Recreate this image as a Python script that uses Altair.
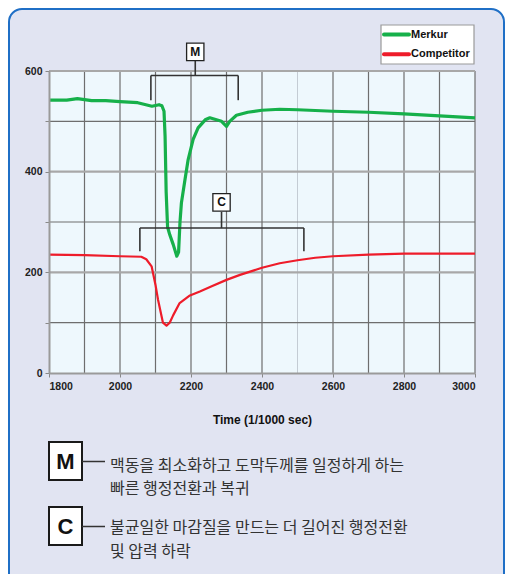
import altair as alt
import pandas as pd

# ---------------- data ----------------
merkur_t = [1800, 1850, 1880, 1920, 1960, 2000, 2050, 2090, 2110, 2118, 2124, 2127, 2130, 2134,
            2140, 2150, 2160, 2165, 2169, 2173, 2183, 2192, 2206, 2220, 2240, 2253, 2267, 2286,
            2300, 2309, 2328, 2360, 2400, 2450, 2500, 2600, 2700, 2800, 2900, 3000]
merkur_v = [542, 542, 545, 541, 541, 539, 537, 530, 533, 531, 520, 470, 360, 290,
            275, 255, 232, 240, 300, 338, 384, 424, 464, 487, 503, 507, 504, 500,
            490, 500, 512, 518, 522, 524, 523, 520, 518, 515, 511, 507]

comp_t = [1800, 1900, 2000, 2060, 2074, 2089, 2100, 2107, 2121, 2131, 2140, 2150, 2168, 2197,
          2225, 2260, 2300, 2338, 2400, 2450, 2500, 2550, 2600, 2700, 2800, 2900, 3000]
comp_v = [235, 234, 232, 231, 226, 212, 175, 146, 100, 94, 100, 115, 139, 154,
          162, 173, 185, 195, 209, 218, 224, 229, 232, 235, 237, 237, 237]

series_names = ["Merkur", "Competitor"]
series_colors = ["#16B04A", "#EE1C2A"]
series_widths = [3.2, 2.2]

x_ticks = [1800, 1900, 2000, 2100, 2200, 2300, 2400, 2500, 2600, 2700, 2800, 2900, 3000]
y_ticks = [0, 100, 200, 300, 400, 500, 600]
x_grid = [1900, 2000, 2100, 2200, 2300, 2400, 2600, 2700, 2800, 2900, 3000]
x_grid_light = [2500]
y_grid_minor = [100, 300, 500]
y_grid_major = [200, 400, 600]

# bracket annotations: (x, x2, y, y2)
bracket_x = [2087, 2087, 2333, 2212, 2056, 2056, 2518, 2286]
bracket_x2 = [2333, 2087, 2333, 2212, 2518, 2056, 2518, 2286]
bracket_y = [591, 591, 591, 591, 288, 288, 288, 288]
bracket_y2 = [591, 542, 542, 620, 288, 242, 242, 320]
box_labels = ["M", "C"]
box_x = [2212, 2286]
box_y = [638, 339]

note_m = ["맥동을 최소화하고 도막두께를 일정하게 하는", "빠른 행정전환과 복귀"]
note_c = ["불균일한 마감질을 만드는 더 길어진 행정전환", "및 압력 하락"]

x_title = "Time (1/1000 sec)"

# ---------------- tables ----------------
lines_df = pd.concat([
    pd.DataFrame({"series": "Merkur", "t": merkur_t, "v": merkur_v}),
    pd.DataFrame({"series": "Competitor", "t": comp_t, "v": comp_v}),
], ignore_index=True)
brackets_df = pd.DataFrame({"x": bracket_x, "x2": bracket_x2, "y": bracket_y, "y2": bracket_y2})
boxes_df = pd.DataFrame({"label": box_labels, "x": box_x, "y": box_y})
one = pd.DataFrame({"a": [0]})

W, H = 426, 302
FONT = "Liberation Sans"
xs = alt.Scale(domain=[1800, 3000], nice=False, zero=False)
ys = alt.Scale(domain=[0, 600], nice=False)

# ---------------- decorative frame ----------------
frame = alt.Chart(one).mark_rect(
    fill="#E1E4F2", stroke="#1F6FC6", strokeWidth=2, cornerRadius=13
).encode(x=alt.value(-40), x2=alt.value(455), y=alt.value(-62), y2=alt.value(530))

plot_bg = alt.Chart(one).mark_rect(fill="#EEF8FD").encode(
    x=alt.value(0), x2=alt.value(W), y=alt.value(0), y2=alt.value(H))

xg = alt.Chart(pd.DataFrame({"g": x_grid})).mark_rule(color="#6e6e6e", strokeWidth=1.2).encode(
    x=alt.X("g:Q", scale=xs), y=alt.value(0), y2=alt.value(H))
xgl = alt.Chart(pd.DataFrame({"g": x_grid_light})).mark_rule(color="#c4ccd4", strokeWidth=1).encode(
    x=alt.X("g:Q", scale=xs), y=alt.value(0), y2=alt.value(H))
ygm = alt.Chart(pd.DataFrame({"g": y_grid_minor})).mark_rule(color="#6e6e6e", strokeWidth=1.2).encode(
    y=alt.Y("g:Q", scale=ys), x=alt.value(0), x2=alt.value(W))
ygM = alt.Chart(pd.DataFrame({"g": y_grid_major})).mark_rule(color="#a8a8a8", strokeWidth=2.2).encode(
    y=alt.Y("g:Q", scale=ys), x=alt.value(0), x2=alt.value(W))

lines = alt.Chart(lines_df).mark_line(strokeJoin="round").encode(
    x=alt.X("t:Q", scale=xs, axis=alt.Axis(
        values=x_ticks, labelExpr="datum.value % 200 == 0 ? datum.label : ''",
        title=x_title, grid=False, tickSize=4, tickColor="#888", domainColor="#9a9a9a",
        domainWidth=2, labelPadding=4, titlePadding=23, zindex=1, format="d")),
    y=alt.Y("v:Q", scale=ys, axis=alt.Axis(
        values=y_ticks, labelExpr="datum.value % 200 == 0 ? datum.label : ''",
        title=None, grid=False, tickSize=4, tickColor="#888", domainColor="#9a9a9a",
        domainWidth=2, labelPadding=3, zindex=1)),
    color=alt.Color("series:N", scale=alt.Scale(domain=series_names, range=series_colors),
                    legend=None),
    strokeWidth=alt.StrokeWidth("series:N", scale=alt.Scale(domain=series_names, range=series_widths),
                                legend=None),
    order=alt.Order("t:Q"),
)

# ---------------- legend (drawn as marks) ----------------
leg_box = alt.Chart(one).mark_rect(fill="white", stroke="#9a9a9a", strokeWidth=1.2).encode(
    x=alt.value(332), x2=alt.value(425), y=alt.value(-46), y2=alt.value(-7))
legend_layers = [leg_box]
for i, (nm, col) in enumerate(zip(series_names, series_colors)):
    ly = -36.5 + i * 19.7
    legend_layers.append(alt.Chart(one).mark_rule(color=col, strokeWidth=4, strokeCap="round").encode(
        x=alt.value(335), x2=alt.value(360), y=alt.value(ly)))
    legend_layers.append(alt.Chart(one).mark_text(font=FONT, fontWeight="bold", fontSize=11,
                                                  color="#111", align="left", baseline="middle").encode(
        x=alt.value(362), y=alt.value(ly), text=alt.value(nm)))

brackets = alt.Chart(brackets_df).mark_rule(color="#333", strokeWidth=1.6).encode(
    x=alt.X("x:Q", scale=xs), x2="x2:Q", y=alt.Y("y:Q", scale=ys), y2="y2:Q")
boxes = alt.Chart(boxes_df).mark_point(shape="square", size=300, filled=True, fill="white",
                                       stroke="#222", strokeWidth=1.3, opacity=1).encode(
    x=alt.X("x:Q", scale=xs), y=alt.Y("y:Q", scale=ys))
box_text = alt.Chart(boxes_df).mark_text(font=FONT, fontWeight="bold", fontSize=12,
                                         color="#111", baseline="middle").encode(
    x=alt.X("x:Q", scale=xs), y=alt.Y("y:Q", scale=ys), text="label:N")

# ---------------- notes below the chart ----------------
def note(label, lines_txt, top, bottom, line_y, text_cy):
    cy = (top + bottom) / 2
    box = alt.Chart(one).mark_rect(fill="white", stroke="#1a1a1a", strokeWidth=2).encode(
        x=alt.value(0), x2=alt.value(33), y=alt.value(top), y2=alt.value(bottom))
    lab = alt.Chart(one).mark_text(font="Liberation Sans Narrow, Liberation Sans", fontWeight="bold",
                                   fontSize=22, color="#111", baseline="middle").encode(
        x=alt.value(16.5), y=alt.value(cy + 1), text=alt.value(label))
    conn = alt.Chart(one).mark_rule(color="#333", strokeWidth=1.5).encode(
        x=alt.value(33), x2=alt.value(56), y=alt.value(line_y))
    txt = alt.Chart(one).mark_text(font="Noto Sans CJK KR", fontSize=16, color="#333",
                                   align="left", baseline="middle", lineHeight=23.5).encode(
        x=alt.value(61), y=alt.value(text_cy), text=alt.value(lines_txt))
    return [box, lab, conn, txt]

notes = note("M", note_m, 371, 409, 390.5, 394.8) + \
        note("C", note_c, 436, 474, 455.5, 457.2)

chart = alt.layer(frame, plot_bg, xg, xgl, ygm, ygM, lines, brackets, boxes, box_text,
                  *legend_layers, *notes).properties(
    width=W, height=H, autosize=alt.AutoSizeParams(type="none"),
    padding={"left": 41, "top": 63, "right": 30, "bottom": 201},
    background="white",
).configure_view(stroke=None).configure_axis(
    labelFont=FONT, labelFontSize=10.5, labelFontWeight="bold", labelColor="#222",
    titleFont=FONT, titleFontSize=12, titleFontWeight="bold", titleColor="#111",
)

chart.save("out.html", embed_options={"renderer": "svg", "actions": False})
